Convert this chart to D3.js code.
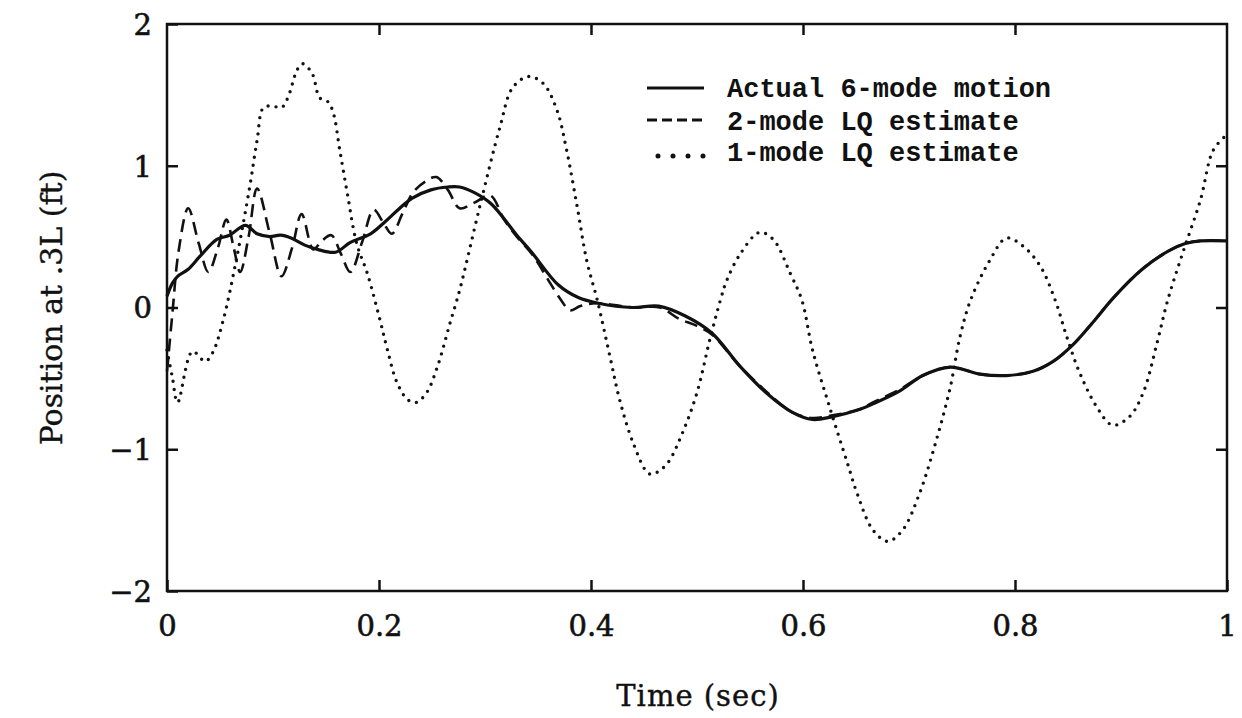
<!DOCTYPE html>
<html>
<head>
<meta charset="utf-8">
<script src="https://cdn.jsdelivr.net/npm/d3@7"></script>
<style>
  html, body { margin: 0; padding: 0; background: #fff; }
  svg { display: block; }
  .tick text { font-family: "DejaVu Serif", serif; font-size: 29px; fill: #111; stroke: #111; stroke-width: 0.6px; }
  .axis-title { font-family: "DejaVu Serif", serif; font-size: 29px; fill: #111; stroke: #111; stroke-width: 0.4px; }
  .legend-text { font-family: "Liberation Mono", monospace; font-weight: bold; font-size: 27px; fill: #111; }
</style>
</head>
<body>
<div id="chart"></div>
<script>
// Actual 6-mode motion (solid)
const actualT = [0, 0.005, 0.01, 0.02, 0.031, 0.047, 0.059, 0.074, 0.085, 0.097, 0.107, 0.117, 0.13, 0.142, 0.159, 0.173, 0.192, 0.205, 0.218, 0.231, 0.249, 0.265, 0.276, 0.29, 0.306, 0.33, 0.344, 0.369, 0.388, 0.407, 0.439, 0.464, 0.489, 0.514, 0.54, 0.565, 0.59, 0.609, 0.628, 0.653, 0.666, 0.691, 0.713, 0.739, 0.767, 0.792, 0.817, 0.836, 0.855, 0.874, 0.893, 0.92, 0.945, 0.96, 0.975, 1.0];
const actualV = [0.08, 0.17, 0.22, 0.27, 0.36, 0.48, 0.51, 0.58, 0.52, 0.50, 0.51, 0.49, 0.44, 0.41, 0.39, 0.46, 0.52, 0.60, 0.69, 0.77, 0.83, 0.85, 0.85, 0.81, 0.73, 0.51, 0.39, 0.16, 0.07, 0.03, 0.0, 0.01, -0.06, -0.18, -0.41, -0.60, -0.74, -0.79, -0.77, -0.72, -0.68, -0.59, -0.48, -0.42, -0.47, -0.48, -0.45, -0.38, -0.26, -0.10, 0.07, 0.27, 0.40, 0.45, 0.47, 0.47];

// 2-mode LQ estimate (dashed)
const est2T = [0, 0.005, 0.011, 0.020, 0.030, 0.039, 0.048, 0.056, 0.063, 0.069, 0.077, 0.085, 0.097, 0.108, 0.118, 0.127, 0.138, 0.146, 0.155, 0.164, 0.173, 0.184, 0.195, 0.204, 0.212, 0.222, 0.232, 0.244, 0.254, 0.265, 0.276, 0.29, 0.305, 0.318, 0.33, 0.345, 0.36, 0.372, 0.38, 0.39, 0.405, 0.44, 0.465, 0.483, 0.5, 0.514, 0.54, 0.565, 0.59, 0.609, 0.628, 0.653, 0.666, 0.691, 0.713, 0.739, 0.767, 0.792, 0.817, 0.836, 0.855, 0.874, 0.893, 0.92, 0.945, 0.96, 0.975, 1.0];
const est2V = [-0.45, -0.05, 0.40, 0.70, 0.45, 0.25, 0.42, 0.62, 0.42, 0.25, 0.50, 0.84, 0.52, 0.22, 0.42, 0.66, 0.41, 0.47, 0.51, 0.38, 0.25, 0.46, 0.69, 0.60, 0.52, 0.66, 0.81, 0.89, 0.92, 0.83, 0.70, 0.74, 0.79, 0.62, 0.50, 0.37, 0.19, 0.05, -0.02, 0.01, 0.03, 0.0, 0.0, -0.08, -0.13, -0.19, -0.41, -0.59, -0.74, -0.78, -0.76, -0.72, -0.67, -0.58, -0.48, -0.42, -0.47, -0.48, -0.45, -0.38, -0.26, -0.10, 0.07, 0.27, 0.40, 0.45, 0.47, 0.47];

// 1-mode LQ estimate (dotted)
const est1T = [0, 0.005, 0.010, 0.024, 0.036, 0.043, 0.053, 0.066, 0.078, 0.085, 0.091, 0.100, 0.108, 0.114, 0.123, 0.128, 0.137, 0.144, 0.152, 0.157, 0.163, 0.170, 0.179, 0.189, 0.201, 0.208, 0.217, 0.227, 0.235, 0.245, 0.255, 0.267, 0.276, 0.295, 0.314, 0.326, 0.341, 0.355, 0.368, 0.377, 0.387, 0.396, 0.406, 0.418, 0.427, 0.440, 0.454, 0.460, 0.472, 0.486, 0.500, 0.512, 0.522, 0.528, 0.541, 0.559, 0.572, 0.588, 0.599, 0.609, 0.625, 0.642, 0.651, 0.666, 0.680, 0.694, 0.710, 0.726, 0.739, 0.748, 0.758, 0.776, 0.792, 0.808, 0.824, 0.838, 0.849, 0.861, 0.877, 0.892, 0.908, 0.921, 0.934, 0.944, 0.958, 0.975, 0.987, 1.0];
const est1V = [-0.30, -0.49, -0.67, -0.31, -0.38, -0.32, -0.09, 0.36, 0.85, 1.18, 1.41, 1.42, 1.41, 1.48, 1.68, 1.72, 1.65, 1.48, 1.45, 1.37, 1.11, 0.81, 0.45, 0.24, -0.09, -0.30, -0.53, -0.65, -0.67, -0.60, -0.42, -0.11, 0.12, 0.71, 1.27, 1.55, 1.63, 1.58, 1.39, 1.11, 0.71, 0.33, 0.05, -0.35, -0.65, -0.96, -1.17, -1.17, -1.10, -0.89, -0.60, -0.23, 0.05, 0.19, 0.38, 0.53, 0.48, 0.24, 0.05, -0.30, -0.70, -1.10, -1.31, -1.57, -1.65, -1.57, -1.31, -0.93, -0.56, -0.21, 0.05, 0.33, 0.49, 0.43, 0.29, 0.05, -0.21, -0.46, -0.70, -0.83, -0.77, -0.60, -0.25, 0.05, 0.38, 0.76, 1.11, 1.22];

const xTicks = [0, 0.2, 0.4, 0.6, 0.8, 1];
const yTicks = [-2, -1, 0, 1, 2];
const legendLabels = ["Actual 6-mode motion", "2-mode LQ estimate", "1-mode LQ estimate"];

const width = 1242, height = 718;
const margin = { left: 167, right: 15, top: 24, bottom: 127 };
const innerW = width - margin.left - margin.right;
const innerH = height - margin.top - margin.bottom;

const svg = d3.select("#chart").append("svg")
  .attr("width", width)
  .attr("height", height);

const x = d3.scaleLinear().domain([0, 1]).range([margin.left, margin.left + innerW]);
const y = d3.scaleLinear().domain([-2, 2]).range([margin.top + innerH, margin.top]);

const fmtY = d => d < 0 ? "\u2212" + Math.abs(d) : String(d);
const fmtX = d => d === 0 ? "0" : d === 1 ? "1" : d3.format(".1f")(d);

// axes: inward ticks, labels only bottom and left
const axisB = svg.append("g")
  .attr("transform", `translate(0,${margin.top + innerH})`)
  .call(d3.axisBottom(x).tickValues(xTicks).tickFormat(fmtX).tickSize(-11).tickPadding(24));
const axisT = svg.append("g")
  .attr("transform", `translate(0,${margin.top})`)
  .call(d3.axisTop(x).tickValues(xTicks.slice(1, -1)).tickFormat("").tickSize(-11));
const axisL = svg.append("g")
  .attr("transform", `translate(${margin.left},0)`)
  .call(d3.axisLeft(y).tickValues(yTicks).tickFormat(fmtY).tickSize(-11).tickPadding(15));
const axisR = svg.append("g")
  .attr("transform", `translate(${margin.left + innerW},0)`)
  .call(d3.axisRight(y).tickValues(yTicks.slice(1, -1)).tickFormat("").tickSize(-11));

[axisB, axisT, axisL, axisR].forEach(g => {
  g.select(".domain").remove();
  g.selectAll(".tick line").attr("stroke", "#111").attr("stroke-width", 2.5);
});
axisL.selectAll(".tick text").attr("dy", "0.36em");

// frame
svg.append("rect")
  .attr("x", margin.left)
  .attr("y", margin.top)
  .attr("width", innerW)
  .attr("height", innerH)
  .attr("fill", "none")
  .attr("stroke", "#111")
  .attr("stroke-width", 2.5);

// curves
const line = d3.line()
  .x(d => x(d[0]))
  .y(d => y(d[1]))
  .curve(d3.curveCatmullRom.alpha(0.5));

const zip = (ts, vs) => ts.map((t, i) => [t, vs[i]]);

const plot = svg.append("g");
plot.append("path")
  .datum(zip(est1T, est1V))
  .attr("d", line)
  .attr("fill", "none")
  .attr("stroke", "#111")
  .attr("stroke-width", 3.4)
  .attr("stroke-linecap", "round")
  .attr("stroke-dasharray", "0 8");

plot.append("path")
  .datum(zip(est2T, est2V))
  .attr("d", line)
  .attr("fill", "none")
  .attr("stroke", "#111")
  .attr("stroke-width", 2.6)
  .attr("stroke-dasharray", "13 7");

plot.append("path")
  .datum(zip(actualT, actualV))
  .attr("d", line)
  .attr("fill", "none")
  .attr("stroke", "#111")
  .attr("stroke-width", 3.2);

// legend
const legendRows = [
  { y: 88, dash: null, w: 3.2, cap: "butt" },
  { y: 120, dash: "10 5", w: 2.8, cap: "butt" },
  { y: 156, dash: "0 15", w: 5, cap: "round" }
];
const legend = svg.append("g");
legendRows.forEach((r, i) => {
  const ln = legend.append("line")
    .attr("x1", i === 2 ? 658 : 647).attr("x2", 704)
    .attr("y1", r.y).attr("y2", r.y)
    .attr("stroke", "#111")
    .attr("stroke-width", r.w)
    .attr("stroke-linecap", r.cap);
  if (r.dash) ln.attr("stroke-dasharray", r.dash);
  legend.append("text")
    .attr("class", "legend-text")
    .attr("x", 727)
    .attr("y", [97, 130, 161][i])
    .text(legendLabels[i]);
});

// axis titles
svg.append("text")
  .attr("class", "axis-title")
  .attr("x", 698)
  .attr("y", 706)
  .attr("text-anchor", "middle")
  .style("letter-spacing", "1px")
  .text("Time (sec)");

svg.append("text")
  .attr("class", "axis-title")
  .attr("transform", "translate(62,308) rotate(-90)")
  .attr("text-anchor", "middle")
  .style("font-size", "30px")
  .text("Position at .3L (ft)");
</script>
</body>
</html>
